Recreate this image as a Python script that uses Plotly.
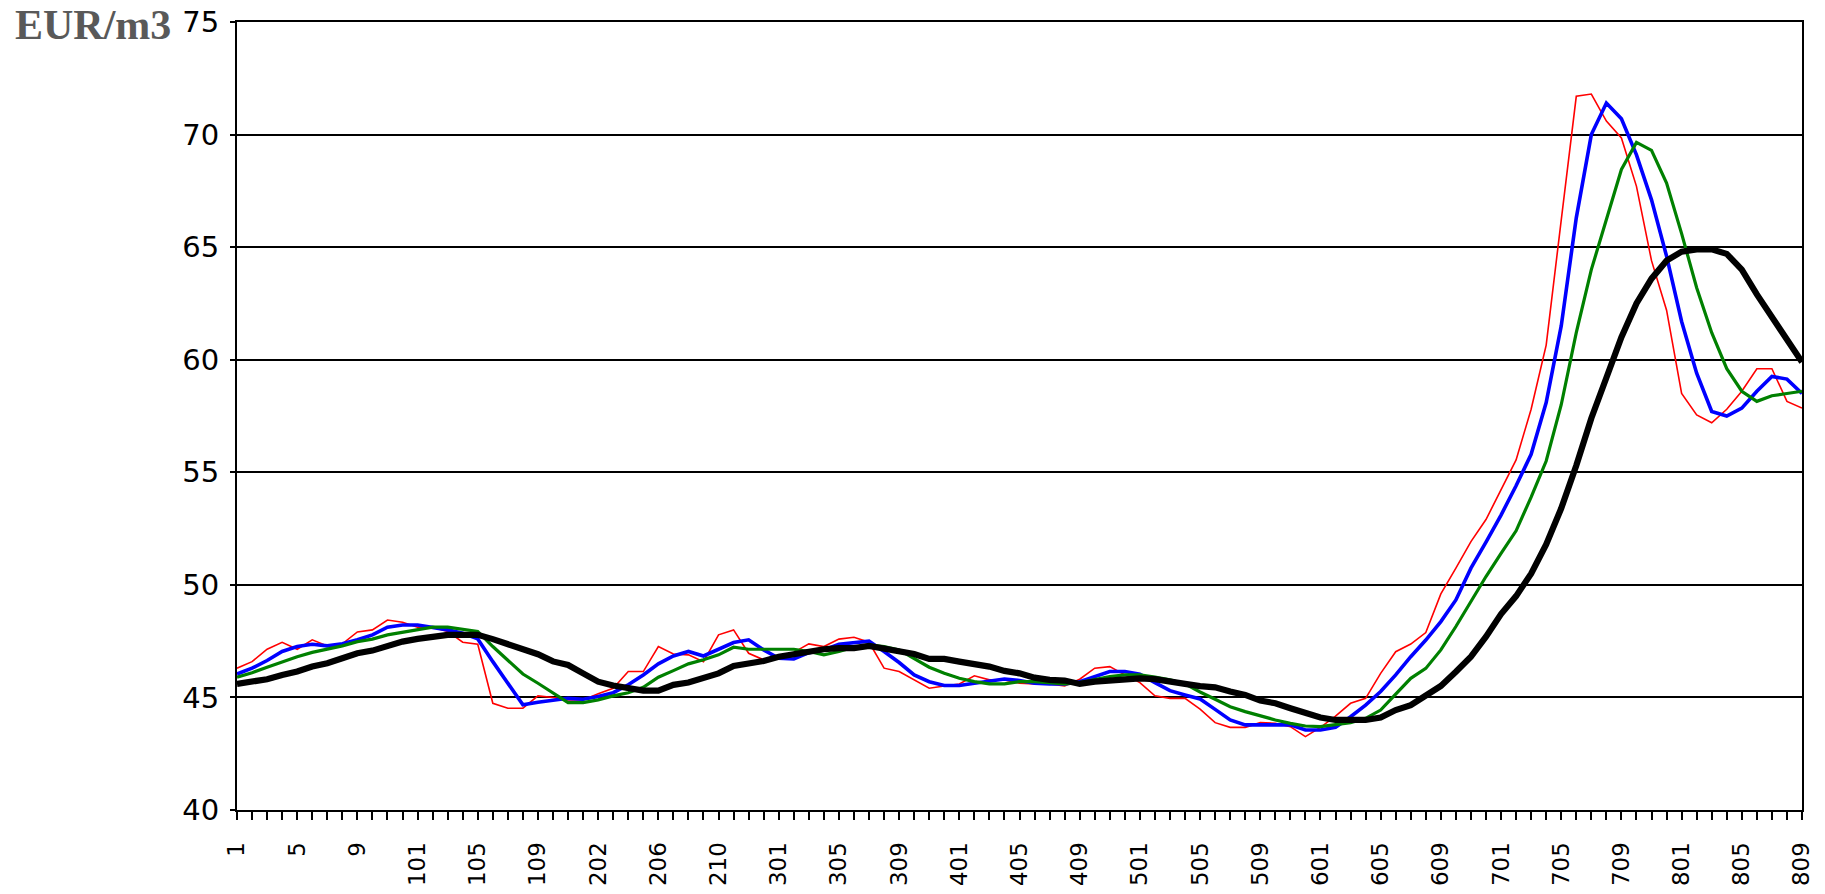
import plotly.graph_objects as go

# Period labels (YYMM style as printed on the axis)
year0 = [str(m) for m in range(1, 13)]
year1 = [str(100 + m) for m in range(1, 13)]
year2 = [str(200 + m) for m in range(2, 14)]
year3 = [str(300 + m) for m in range(1, 13)]
year4 = [str(400 + m) for m in range(1, 13)]
year5 = [str(500 + m) for m in range(1, 13)]
year6 = [str(600 + m) for m in range(1, 13)]
year7 = [str(700 + m) for m in range(1, 13)]
year8 = [str(800 + m) for m in range(1, 10)]
periods = year0 + year1 + year2 + year3 + year4 + year5 + year6 + year7 + year8

shown_labels = ["1", "5", "9", "101", "105", "109", "202", "206", "210", "301", "305", "309",
                "401", "405", "409", "501", "505", "509", "601", "605", "609", "701", "705",
                "709", "801", "805", "809"]

red = [46.30, 46.59, 47.14, 47.45, 47.14, 47.56, 47.29, 47.38, 47.91, 48.00,
       48.44, 48.34, 48.12, 48.12, 47.93, 47.45, 47.36, 44.74, 44.52, 44.52,
       45.07, 45.00, 44.89, 44.89, 45.16, 45.41, 46.15, 46.15, 47.26, 46.93,
       46.89, 46.59, 47.78, 48.00, 46.96, 46.67, 46.74, 47.00, 47.38, 47.26,
       47.59, 47.67, 47.45, 46.30, 46.15, 45.78, 45.41, 45.51, 45.60, 45.96,
       45.78, 45.78, 45.63, 45.60, 45.60, 45.51, 45.81, 46.30, 46.37, 46.00,
       45.66, 45.07, 44.96, 44.96, 44.48, 43.88, 43.67, 43.67, 43.88, 43.85,
       43.70, 43.26, 43.67, 44.17, 44.74, 44.96, 46.07, 47.03, 47.37, 47.88,
       49.60, 50.74, 51.92, 52.90, 54.20, 55.55, 57.80, 60.65, 66.20, 71.70,
       71.80, 70.60, 69.85, 67.70, 64.40, 62.20, 58.50, 57.55, 57.20, 57.80,
       58.60, 59.60, 59.60, 58.15, 57.85]

blue = [46.04, 46.30, 46.64, 47.04, 47.26, 47.36, 47.29, 47.38, 47.56, 47.78,
        48.12, 48.22, 48.22, 48.12, 48.00, 47.85, 47.60, 46.59, 45.63, 44.67,
        44.79, 44.87, 44.96, 44.92, 45.04, 45.21, 45.56, 46.00, 46.49, 46.84,
        47.04, 46.84, 47.14, 47.44, 47.56, 47.11, 46.74, 46.71, 46.99, 47.11,
        47.36, 47.45, 47.50, 47.04, 46.55, 46.00, 45.70, 45.53, 45.53, 45.63,
        45.73, 45.82, 45.75, 45.63, 45.60, 45.60, 45.70, 45.93, 46.15, 46.15,
        46.03, 45.66, 45.30, 45.11, 44.93, 44.47, 44.00, 43.78, 43.78, 43.78,
        43.78, 43.55, 43.55, 43.67, 44.14, 44.66, 45.26, 46.00, 46.81, 47.55,
        48.37, 49.33, 50.74, 51.90, 53.10, 54.40, 55.80, 58.10, 61.50, 66.30,
        70.00, 71.40, 70.70, 69.10, 67.10, 64.60, 61.70, 59.40, 57.70, 57.50,
        57.85, 58.60, 59.26, 59.14, 58.50]

green = [45.90, 46.10, 46.34, 46.59, 46.81, 47.00, 47.14, 47.29, 47.48, 47.59,
         47.78, 47.90, 48.03, 48.12, 48.12, 48.03, 47.93, 47.26, 46.67, 46.04,
         45.63, 45.20, 44.77, 44.77, 44.89, 45.07, 45.21, 45.45, 45.90, 46.19,
         46.49, 46.67, 46.89, 47.23, 47.14, 47.14, 47.14, 47.14, 47.04, 46.89,
         47.04, 47.23, 47.33, 47.26, 47.11, 46.74, 46.34, 46.07, 45.85, 45.70,
         45.60, 45.60, 45.70, 45.70, 45.66, 45.60, 45.66, 45.78, 45.93, 46.00,
         46.00, 45.90, 45.78, 45.60, 45.24, 44.92, 44.59, 44.37, 44.17, 44.00,
         43.85, 43.73, 43.70, 43.78, 43.88, 44.07, 44.44, 45.15, 45.85, 46.29,
         47.11, 48.15, 49.26, 50.37, 51.40, 52.40, 53.90, 55.50, 58.00, 61.20,
         64.00, 66.20, 68.45, 69.65, 69.30, 67.85, 65.60, 63.20, 61.20, 59.60,
         58.60, 58.15, 58.40, 58.50, 58.60]

black = [45.60, 45.70, 45.81, 46.00, 46.15, 46.37, 46.52, 46.74, 46.96, 47.08,
         47.29, 47.48, 47.60, 47.70, 47.78, 47.78, 47.78, 47.59, 47.38, 47.14,
         46.92, 46.60, 46.44, 46.07, 45.70, 45.53, 45.41, 45.30, 45.30, 45.56,
         45.66, 45.85, 46.07, 46.40, 46.52, 46.62, 46.81, 46.92, 47.04, 47.14,
         47.19, 47.19, 47.29, 47.19, 47.08, 46.93, 46.71, 46.71, 46.59, 46.49,
         46.37, 46.18, 46.07, 45.88, 45.78, 45.75, 45.60, 45.70, 45.75, 45.85,
         45.85, 45.81, 45.73, 45.60, 45.50, 45.45, 45.26, 45.11, 44.86, 44.74,
         44.52, 44.29, 44.11, 44.00, 44.00, 44.00, 44.11, 44.44, 44.66, 45.06,
         45.51, 46.14, 46.81, 47.70, 48.70, 49.50, 50.50, 51.80, 53.40, 55.30,
         57.40, 59.20, 61.00, 62.50, 63.60, 64.40, 64.80, 64.90, 64.90, 64.70,
         64.00, 62.90, 61.90, 60.90, 59.90]

y_ticks = [40, 45, 50, 55, 60, 65, 70, 75]

fig = go.Figure()
series = [
    ("red", red, "#FF0000", 1.6),
    ("blue", blue, "#0000FF", 3.6),
    ("green", green, "#008000", 3.2),
    ("black", black, "#000000", 6.2),
]
for name, vals, col, w in series:
    fig.add_trace(go.Scatter(x=periods, y=vals, mode="lines", name=name,
                             line=dict(color=col, width=w), showlegend=False,
                             hoverinfo="skip"))

ticktext = [p if p in shown_labels else "" for p in periods]

fig.update_layout(
    width=1825, height=894,
    margin=dict(l=237, r=23, t=22, b=84, autoexpand=False),
    paper_bgcolor="white", plot_bgcolor="white",
    xaxis=dict(
        type="category", range=[0, len(periods) - 1], automargin=False,
        tickmode="array", tickvals=periods, ticktext=ticktext,
        tickangle=-90, ticks="outside", ticklen=8, tickwidth=1.5, tickcolor="black",
        tickfont=dict(family="DejaVu Sans", size=23, color="black"),
        ticklabelstandoff=13,
        showline=True, linecolor="black", linewidth=2, mirror=True,
        showgrid=False, zeroline=False,
    ),
    yaxis=dict(
        range=[40, 75], tickmode="array", tickvals=y_ticks, automargin=False,
        ticks="outside", ticklen=5, tickwidth=1.5, tickcolor="black",
        tickfont=dict(family="DejaVu Sans", size=29, color="black"),
        ticklabelstandoff=5,
        showline=True, linecolor="black", linewidth=2, mirror=True,
        showgrid=True, gridcolor="black", gridwidth=1.6, zeroline=False,
    ),
    annotations=[dict(
        text="<b>EUR/m3</b>", xref="paper", yref="paper",
        x=(13 - 237) / 1565, y=(810 - 25) / 788, xanchor="left", yanchor="middle",
        showarrow=False,
        font=dict(family="Liberation Serif", size=42, color="#595959"),
    )],
)

fig.write_html("out.html", config={"displayModeBar": False},
               post_script="document.body.style.margin='0';")
